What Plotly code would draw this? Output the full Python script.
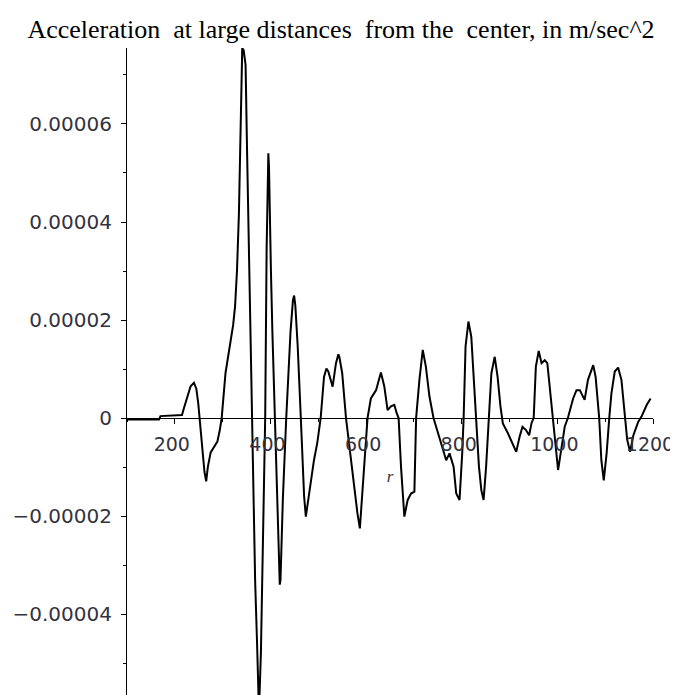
import plotly.graph_objects as go

r_vals = [100, 150, 167, 170, 200, 215, 219, 226, 233, 240, 245, 249, 252, 258, 262, 265.6, 269, 275, 282, 289,
          294, 298, 306, 312, 317, 322, 326, 330, 334, 337, 340, 341, 344, 348, 351, 355, 361, 365, 368, 372,
          376, 380, 383, 389, 392, 394, 395.6, 397, 398.5, 401, 404, 409, 414.5, 419.5, 421, 426, 433, 442, 447, 449.5,
          452, 457, 463.5, 470.4, 474, 477, 481, 486, 491, 498, 505, 512, 517, 521, 524, 530, 537, 542, 544, 550,
          558, 565, 572, 582, 587, 592, 597, 603, 610, 621, 626, 631, 638, 645, 652, 659, 664, 668, 673, 680,
          687, 694, 701, 704.6, 711.5, 718.5, 725, 732.5, 741, 750, 760, 767.5, 774.5, 783, 788.5, 795.4, 801, 804, 808, 814,
          820, 823, 829, 836, 841, 845.7, 851, 857, 862, 869, 875, 881, 886, 896.6, 907, 914, 921, 927, 934, 941,
          946, 950.5, 955, 961, 967, 973.6, 979, 984, 991, 996.6, 1001.5, 1008, 1015.5, 1022, 1033, 1040, 1047, 1057, 1064, 1075,
          1080, 1087.5, 1092, 1097, 1103, 1108.5, 1113, 1120, 1127, 1134, 1141, 1146, 1152, 1159, 1169, 1176, 1187, 1195]

# acceleration in units of 1e-5 m/sec^2
acc_e5 = [-0.03, -0.04, -0.03, 0.04, 0.05, 0.06, 0.2, 0.45, 0.65, 0.72, 0.6, 0.3, 0, -0.7, -1.1, -1.29, -1.0, -0.70, -0.6, -0.48,
          -0.25, 0, 0.92, 1.3, 1.6, 1.9, 2.28, 3.0, 4.15, 5.6, 7.3, 7.55, 7.5, 7.2, 5.5, 3.47, 0, -2.0, -3.33, -4.6,
          -6.0, -4.8, -3.33, 0, 3.47, 5.1, 5.4, 5.1, 4.15, 3.0, 1.77, 0, -2.06, -3.4, -3.3, -1.63, 0, 1.77, 2.4, 2.5,
          2.3, 1.46, 0, -1.6, -2.01, -1.8, -1.54, -1.2, -0.86, -0.5, 0, 0.84, 1.01, 0.95, 0.84, 0.64, 1.12, 1.3, 1.25, 0.92,
          0, -0.6, -1.2, -1.95, -2.25, -1.6, -0.8, 0, 0.4, 0.57, 0.75, 0.93, 0.65, 0.16, 0.24, 0.27, 0.1, 0, -0.99, -2.01,
          -1.67, -1.54, -1.5, 0, 0.78, 1.39, 1.05, 0.44, 0, -0.31, -0.65, -0.86, -0.72, -0.99, -1.54, -1.67, -0.72, 0, 1.46, 1.97,
          1.66, 1.12, 0, -0.99, -1.47, -1.67, -0.99, 0, 0.91, 1.25, 0.84, 0.24, -0.11, -0.31, -0.52, -0.69, -0.38, -0.18, -0.24, -0.35,
          -0.1, 0, 1.05, 1.37, 1.12, 1.18, 1.12, 0.64, 0, -0.59, -1.06, -0.65, -0.17, 0, 0.4, 0.57, 0.57, 0.37, 0.78, 1.08,
          0.84, 0, -0.86, -1.27, -0.72, 0, 0.5, 0.95, 1.03, 0.78, 0, -0.44, -0.69, -0.35, -0.08, 0.03, 0.27, 0.4]

acc = [v * 1e-5 for v in acc_e5]

x_tickvals = [200, 400, 600, 800, 1000, 1200]
x_ticktext = ["200", "400", "600", "800", "1000", "1200"]
y_tickvals = [-0.00004, -0.00002, 0, 0.00002, 0.00004, 0.00006]
y_ticktext = ["\u22120.00004", "\u22120.00002", "0", "0.00002", "0.00004", "0.00006"]

x_range = [100, 1200]
y_range = [-5.65e-5, 7.55e-5]
zero_frac = (0 - y_range[0]) / (y_range[1] - y_range[0])

title_text = "Acceleration\u00a0 at large distances\u00a0 from the\u00a0 center, in m/sec^2"

W, H = 670, 687  # page has an 8px body margin

fig = go.Figure()
fig.add_trace(go.Scatter(x=r_vals, y=acc, mode="lines",
                         line=dict(color="black", width=2), showlegend=False,
                         hoverinfo="x+y", cliponaxis=True))

tick_font = dict(family="DejaVu Sans", size=20, color="#333340")

fig.update_layout(
    width=W, height=H,
    margin=dict(l=119, r=25, t=40, b=0, autoexpand=False),
    paper_bgcolor="white", plot_bgcolor="white",
    title=dict(text=title_text, x=333 / W, xanchor="center", xref="container",
               y=1 - 21 / H, yanchor="middle", yref="container", automargin=False,
               font=dict(family="Liberation Serif", size=26, color="black")),
    xaxis=dict(range=x_range, anchor="free", position=zero_frac, automargin=False,
               showline=True, linecolor="black", linewidth=1,
               showgrid=False, zeroline=False,
               ticks="outside", ticklen=5, tickcolor="black",
               tickvals=x_tickvals, ticktext=x_ticktext,
               tickfont=dict(family="DejaVu Sans", size=19, color="#333340"),
               ticklabelshift=-3, ticklabelstandoff=4, ticklabeloverflow="allow",
               minor=dict(dtick=100, tick0=0, ticks="outside", ticklen=3, tickcolor="black"),
               title=dict(text="<i>r</i>", standoff=16,
                          font=dict(family="Liberation Serif", size=17, color="#333340"))),
    yaxis=dict(range=y_range, automargin=False, showline=True, linecolor="black", linewidth=1,
               showgrid=False, zeroline=False,
               ticks="outside", ticklen=5, tickcolor="black",
               tickvals=y_tickvals, ticktext=y_ticktext, tickfont=tick_font,
               ticklabelstandoff=5,
               minor=dict(dtick=1e-5, tick0=0, ticks="outside", ticklen=3, tickcolor="black")),
)

fig.write_html("out.html")
